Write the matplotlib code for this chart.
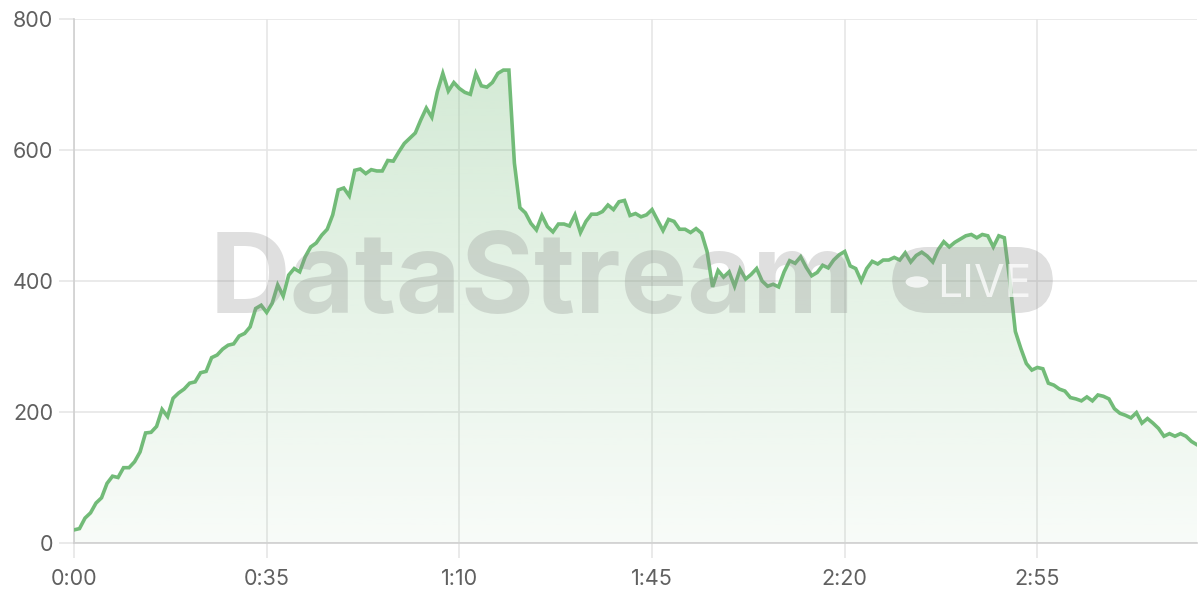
import matplotlib
matplotlib.use('Agg')
import matplotlib.pyplot as plt
from matplotlib.patches import FancyBboxPatch, Circle
import numpy as np

# one reading per second, 0:00 .. 3:24
seconds = list(range(0, 205))
values = [20, 22, 38, 46, 61, 69, 91, 102, 100, 115,
          115, 124, 139, 168, 169, 178, 204, 193, 221, 229,
          235, 244, 246, 260, 262, 283, 287, 296, 302, 304,
          316, 320, 330, 358, 363, 352, 366, 394, 377, 409,
          419, 414, 437, 452, 458, 470, 479, 501, 539, 542,
          530, 569, 571, 564, 570, 568, 568, 584, 583, 597,
          610, 618, 626, 646, 664, 650, 689, 717, 690, 703,
          694, 688, 685, 717, 698, 696, 703, 717, 722, 722,
          580, 512, 504, 488, 478, 500, 483, 475, 487, 487,
          484, 501, 474, 491, 502, 502, 506, 516, 509, 521,
          523, 500, 503, 498, 501, 509, 493, 477, 494, 491,
          479, 479, 474, 480, 473, 445, 391, 416, 406, 414,
          392, 418, 403, 410, 419, 400, 392, 395, 391, 414,
          431, 427, 437, 421, 408, 413, 424, 420, 432, 440,
          445, 423, 419, 400, 419, 430, 426, 432, 432, 436,
          432, 443, 429, 439, 444, 438, 429, 448, 460, 452,
          459, 464, 469, 471, 466, 471, 469, 452, 469, 466,
          400, 323, 297, 274, 264, 268, 266, 244, 241, 235,
          232, 222, 220, 217, 223, 217, 226, 224, 220, 205,
          198, 195, 191, 199, 183, 190, 183, 175, 163, 167,
          163, 167, 163, 155, 150]

x_ticks = [0, 35, 70, 105, 140, 175]
x_labels = ['0:00', '0:35', '1:10', '1:45', '2:20', '2:55']
y_ticks = [0, 200, 400, 600, 800]

LINE = '#72bb78'

fig = plt.figure(figsize=(12, 6), dpi=100)
ax = fig.add_axes([74/1200, 57/600, 1123/1200, 524/600])

# gradient fill under the line
poly = ax.fill_between(seconds, values, 0, color='none', lw=0)
grad = np.linspace(0.05, 0.33, 256).reshape(-1, 1)
rgba = np.zeros((256, 1, 4))
rgba[..., 0] = 0x72/255
rgba[..., 1] = 0xbb/255
rgba[..., 2] = 0x78/255
rgba[..., 3] = grad
img = ax.imshow(rgba, extent=[0, 204, 0, 800], origin='lower', aspect='auto', zorder=1)
img.set_clip_path(poly.get_paths()[0], transform=ax.transData)

ax.plot(seconds, values, color=LINE, lw=2.6, zorder=4, solid_joinstyle='miter')

ax.set_xlim(0, 204)
ax.set_ylim(0, 800)
ax.set_xticks(x_ticks)
ax.set_xticklabels(x_labels)
ax.set_yticks(y_ticks)

ax.grid(True, color='#e6e6e6', lw=1.2, zorder=0)
ax.set_axisbelow(True)
for s in ['top', 'right']:
    ax.spines[s].set_visible(False)
for s in ['left', 'bottom']:
    ax.spines[s].set_color('#d0d0d0')
    ax.spines[s].set_linewidth(1.2)
ax.tick_params(axis='both', colors='#e6e6e6', width=1.2, length=11,
               labelcolor='#606060', labelsize=15.5)
ax.tick_params(axis='y', pad=4)
ax.tick_params(axis='x', pad=8)
for lab in ax.get_xticklabels() + ax.get_yticklabels():
    lab.set_family(['Inter', 'DejaVu Sans'])

# watermark
wm = (0.55, 0.55, 0.55, 0.28)
fig.text(210/1200, 1 - 313/600, 'DataStream', fontsize=80.5, fontweight='bold',
         family=['Inter', 'DejaVu Sans'], color=wm, ha='left', va='baseline', zorder=3)
box = FancyBboxPatch((892/1200, 1 - 313/600), 161/1200, 66/600,
                     boxstyle='round,pad=0,rounding_size=0.03',
                     transform=fig.transFigure, facecolor=wm, edgecolor='none',
                     mutation_aspect=2, zorder=3)
fig.add_artist(box)
fig.add_artist(Circle((917/1200, 1 - 282/600), 0.0095, transform=fig.transFigure,
                      facecolor=(1, 1, 1, 0.75), edgecolor='none', zorder=3.1))
fig.text(937/1200, 1 - 297/600, 'LIVE', fontsize=32, family=['Inter', 'DejaVu Sans'],
         color=(1, 1, 1, 0.75), ha='left', va='baseline', zorder=3.1)

fig.savefig('out.png', dpi=100)
